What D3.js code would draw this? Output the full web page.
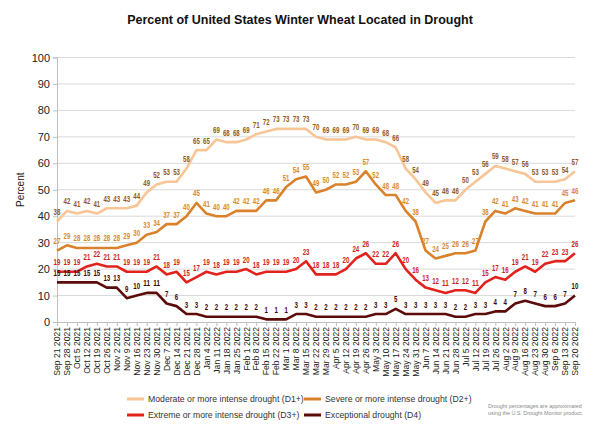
<!DOCTYPE html>
<html>
<head>
<meta charset="utf-8">
<script src="https://d3js.org/d3.v7.min.js"></script>
<style>
  body { margin: 0; background: #fff; }
  svg { display: block; font-family: "Liberation Sans", Arial, sans-serif; }
</style>
</head>
<body>
<script>
// semanas (categorías del eje x)
var weeks = ["Sep 21 2021", "Sep 28 2021", "Oct 5 2021", "Oct 12 2021", "Oct 19 2021", "Oct 26 2021",
  "Nov 2 2021", "Nov 9 2021", "Nov 16 2021", "Nov 23 2021", "Nov 30 2021", "Dec 7 2021", "Dec 14 2021",
  "Dec 21 2021", "Dec 28 2021", "Jan 4 2022", "Jan 11 2022", "Jan 18 2022", "Jan 25 2022", "Feb 1 2022",
  "Feb 8 2022", "Feb 15 2022", "Feb 22 2022", "Mar 1 2022", "Mar 8 2022", "Mar 15 2022", "Mar 22 2022",
  "Mar 29 2022", "Apr 5 2022", "Apr 12 2022", "Apr 19 2022", "Apr 26 2022", "May 3 2022", "May 10 2022",
  "May 17 2022", "May 24 2022", "May 31 2022", "Jun 7 2022", "Jun 14 2022", "Jun 21 2022", "Jun 28 2022",
  "Jul 5 2022", "Jul 12 2022", "Jul 19 2022", "Jul 26 2022", "Aug 2 2022", "Aug 9 2022", "Aug 16 2022",
  "Aug 23 2022", "Aug 30 2022", "Sep 6 2022", "Sep 13 2022", "Sep 20 2022"];

// porcentaje por categoría de sequía
var d1 = [38, 42, 41, 42, 41, 43, 43, 43, 44, 49, 52, 53, 53, 58, 65, 65, 69, 68, 68, 69, 71, 72, 73, 73, 73, 73,
  70, 69, 69, 69, 70, 69, 69, 68, 66, 58, 54, 49, 45, 46, 46, 50, 53, 56, 59, 58, 57, 56, 53, 53, 53, 54, 57];
var d2 = [27, 29, 28, 28, 28, 28, 28, 29, 30, 33, 34, 37, 37, 40, 45, 41, 40, 40, 42, 42, 42, 46, 46, 51, 54, 55,
  49, 50, 52, 52, 53, 57, 52, 48, 48, 42, 38, 27, 24, 25, 26, 26, 27, 38, 42, 41, 43, 42, 41, 41, 41, 45, 46];
var d3v = [19, 19, 19, 21, 22, 21, 21, 19, 19, 19, 21, 18, 19, 15, 17, 19, 18, 19, 19, 20, 18, 19, 19, 19, 20, 23,
  18, 18, 18, 20, 24, 26, 22, 22, 26, 20, 16, 13, 12, 11, 12, 12, 11, 15, 17, 16, 19, 21, 19, 22, 23, 23, 26];
var d4 = [15, 15, 15, 15, 15, 13, 13, 9, 10, 11, 11, 7, 6, 3, 3, 2, 2, 2, 2, 2, 2, 1, 1, 1, 3, 3,
  2, 2, 2, 2, 2, 2, 3, 3, 5, 3, 3, 3, 3, 3, 2, 2, 3, 3, 4, 4, 7, 8, 7, 6, 6, 7, 10];

var yTicks = [0, 10, 20, 30, 40, 50, 60, 70, 80, 90, 100];

var series = [
  { name: "Moderate or more intense drought (D1+)", values: d1, line: "#f8c597", label: "#8f5a27" },
  { name: "Severe or more intense drought (D2+)", values: d2, line: "#d9822b", label: "#d98a2f" },
  { name: "Extreme or more intense drought (D3+)", values: d3v, line: "#e2231d", label: "#cf1f1f" },
  { name: "Exceptional drought (D4)", values: d4, line: "#5c0b0b", label: "#3f0808" }
];

var W = 600, H = 431;
var margin = { top: 57.5, right: 25, bottom: 109, left: 57 };

var svg = d3.select("body").append("svg")
  .attr("width", W)
  .attr("height", H);

var x = d3.scalePoint()
  .domain(weeks)
  .range([margin.left, W - margin.right]);

var y = d3.scaleLinear()
  .domain([0, 100])
  .range([H - margin.bottom, margin.top]);

// título
svg.append("text")
  .attr("x", 300)
  .attr("y", 24)
  .attr("text-anchor", "middle")
  .style("font-size", "12.5px")
  .style("font-weight", "bold")
  .style("fill", "#111")
  .text("Percent of United States Winter Wheat Located in Drought");

// líneas de la cuadrícula
svg.append("g")
  .selectAll("line")
  .data(yTicks.slice(1))
  .enter()
  .append("line")
  .attr("x1", margin.left)
  .attr("x2", W - margin.right)
  .attr("y1", function(d) { return y(d); })
  .attr("y2", function(d) { return y(d); })
  .style("stroke", "#d9d9d9")
  .style("stroke-width", 1);

// eje y
var yAxis = svg.append("g")
  .attr("transform", "translate(" + margin.left + ",0)")
  .call(d3.axisLeft(y).tickValues(yTicks).tickSize(4).tickPadding(3));
yAxis.select(".domain").style("stroke", "#bfbfbf");
yAxis.selectAll(".tick line").style("stroke", "#bfbfbf");
yAxis.selectAll(".tick text")
  .style("font-size", "11px")
  .style("fill", "#222")
  .style("font-family", "Liberation Sans, Arial, sans-serif");

svg.append("text")
  .attr("transform", "translate(24," + y(50) + ") rotate(-90)")
  .attr("text-anchor", "middle")
  .style("font-size", "10px")
  .style("fill", "#222")
  .text("Percent");

// eje x
var xAxis = svg.append("g")
  .attr("transform", "translate(0," + y(0) + ")")
  .call(d3.axisBottom(x).tickSize(4).tickPadding(3));
xAxis.select(".domain").style("stroke", "#bfbfbf");
xAxis.selectAll(".tick line").style("stroke", "#bfbfbf");
xAxis.selectAll(".tick text")
  .attr("transform", "rotate(-90)")
  .attr("text-anchor", "end")
  .attr("x", -5)
  .attr("y", 0)
  .attr("dy", "0.32em")
  .style("font-size", "8.6px")
  .style("fill", "#222")
  .style("font-family", "Liberation Sans, Arial, sans-serif");

// series
var line = d3.line()
  .x(function(d, i) { return x(weeks[i]); })
  .y(function(d) { return y(d); });

series.forEach(function(s) {
  svg.append("path")
    .datum(s.values)
    .attr("d", line)
    .style("fill", "none")
    .style("stroke", s.line)
    .style("stroke-width", 2.6)
    .style("stroke-linejoin", "round");
});

// etiquetas de datos (tipografía estrecha, como en el original)
series.forEach(function(s) {
  svg.append("g")
    .selectAll("text")
    .data(s.values)
    .enter()
    .append("text")
    .attr("x", function(d, i) { return x(weeks[i]); })
    .attr("y", function(d) { return y(d) - 6.5; })
    .attr("text-anchor", "middle")
    .attr("textLength", function(d) { return String(d).length * 3.4; })
    .attr("lengthAdjust", "spacingAndGlyphs")
    .style("font-size", "8.4px")
    .style("font-weight", "bold")
    .style("fill", s.label)
    .text(function(d) { return d; });
});

// leyenda
var legendPos = [[127, 399], [304, 399], [127, 415], [304, 415]];
var legend = svg.append("g")
  .selectAll("g")
  .data(series)
  .enter()
  .append("g")
  .attr("transform", function(d, i) { return "translate(" + legendPos[i][0] + "," + legendPos[i][1] + ")"; });

legend.append("line")
  .attr("x1", 0)
  .attr("x2", 17)
  .attr("y1", 0)
  .attr("y2", 0)
  .style("stroke", function(d) { return d.line; })
  .style("stroke-width", 3);

legend.append("text")
  .attr("x", 21)
  .attr("y", 0)
  .attr("dy", "0.35em")
  .style("font-size", "8.7px")
  .style("fill", "#333")
  .text(function(d) { return d.name; });

// nota
svg.append("text")
  .attr("x", 488)
  .attr("y", 408)
  .style("font-size", "5.4px")
  .style("fill", "#8a8a8a")
  .selectAll("tspan")
  .data(["Drought percentages are approximated", "using the U.S. Drought Monitor product."])
  .enter()
  .append("tspan")
  .attr("x", 488)
  .attr("dy", function(d, i) { return i ? 6.5 : 0; })
  .text(function(d) { return d; });
</script>
</body>
</html>
